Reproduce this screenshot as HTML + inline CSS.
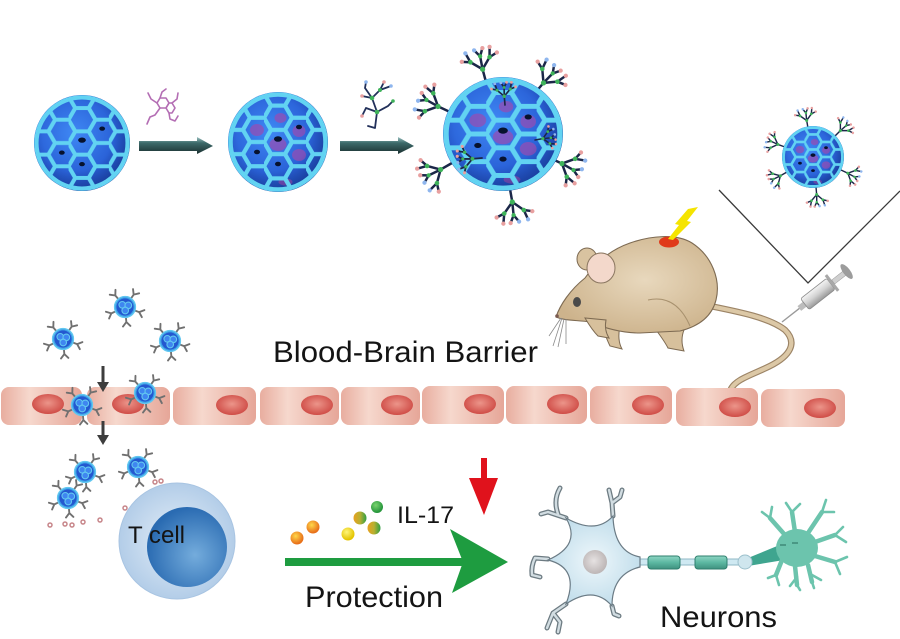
<!DOCTYPE html>
<html><head><meta charset="utf-8"><style>
html,body{margin:0;padding:0;background:#fff;}
svg{display:block;}
text{font-family:"Liberation Sans",Arial,sans-serif;fill:#141414;}
</style></head><body>
<svg width="900" height="639" viewBox="0 0 900 639" xmlns="http://www.w3.org/2000/svg">
<defs>
 <radialGradient id="gBlue" cx="0.42" cy="0.4" r="0.68"><stop offset="0" stop-color="#3f88f4"/><stop offset="0.6" stop-color="#2a62d8"/><stop offset="1" stop-color="#1a3fa6"/></radialGradient>
 <radialGradient id="gShade" cx="0.45" cy="0.42" r="0.6"><stop offset="0.6" stop-color="#0a1e5a" stop-opacity="0"/><stop offset="1" stop-color="#0a1e5a" stop-opacity="0.3"/></radialGradient>
 <pattern id="hexPat" patternUnits="userSpaceOnUse" x="-0.28" y="-0.2425" width="0.84" height="0.485">
  <path d="M0,0.2425 L0.14,0 L0.42,0 L0.56,0.2425 L0.42,0.485 L0.14,0.485 Z M0.56,0.2425 L0.84,0.2425" fill="none" stroke="#62d3f2" stroke-width="0.085"/>
 </pattern>
 <clipPath id="cu"><circle r="0.96"/></clipPath>
 <g id="cageBase"><circle r="1" fill="url(#gBlue)"/></g>
 <g id="cageLines">
  <ellipse cx="0" cy="-0.06" rx="0.08" ry="0.055" fill="#07122e"/>
  <ellipse cx="0.42" cy="-0.3" rx="0.06" ry="0.045" fill="#07122e"/>
  <ellipse cx="-0.42" cy="0.2" rx="0.06" ry="0.045" fill="#07122e"/>
  <ellipse cx="0" cy="0.44" rx="0.06" ry="0.045" fill="#07122e"/>
  <circle r="1" fill="url(#gShade)"/>
  <rect x="-1" y="-1" width="2" height="2" fill="url(#hexPat)" clip-path="url(#cu)"/>
  <circle r="0.95" fill="none" stroke="#62d3f2" stroke-width="0.09"/>
 </g>
 <g id="patches" fill="#9a4cb2" opacity="0.7">
  <ellipse cx="0" cy="0.05" rx="0.17" ry="0.13"/>
  <ellipse cx="-0.42" cy="-0.24" rx="0.14" ry="0.12"/>
  <ellipse cx="0.42" cy="-0.22" rx="0.13" ry="0.12"/>
  <ellipse cx="0.42" cy="0.26" rx="0.14" ry="0.12"/>
  <ellipse cx="0.05" cy="-0.48" rx="0.12" ry="0.1"/>
  <ellipse cx="0.15" cy="0.8" rx="0.14" ry="0.07"/>
 </g>
 <g id="dend" fill="none" stroke="#1b2748" stroke-width="0.075" stroke-linecap="round">
  <path d="M0,0 V-0.4 M0,-0.4 L-0.3,-0.7 M0,-0.4 L0.3,-0.7 M0,-0.4 L0.03,-0.8 M-0.3,-0.7 L-0.55,-0.78 M-0.3,-0.7 L-0.38,-1 M0.3,-0.7 L0.55,-0.78 M0.3,-0.7 L0.38,-1 M0.03,-0.8 L-0.1,-1.02 M0.03,-0.8 L0.16,-1.02"/>
  <g stroke="none">
   <circle cx="0" cy="-0.4" r="0.08" fill="#3fb35a"/>
   <circle cx="-0.3" cy="-0.7" r="0.07" fill="#3fb35a"/>
   <circle cx="0.3" cy="-0.7" r="0.07" fill="#3fb35a"/>
   <circle cx="0.03" cy="-0.8" r="0.065" fill="#3fb35a"/>
   <circle cx="-0.55" cy="-0.78" r="0.065" fill="#e8a0a0"/>
   <circle cx="-0.38" cy="-1" r="0.065" fill="#8fb6ee"/>
   <circle cx="0.55" cy="-0.78" r="0.065" fill="#e8a0a0"/>
   <circle cx="0.38" cy="-1" r="0.065" fill="#e8a0a0"/>
   <circle cx="-0.1" cy="-1.02" r="0.065" fill="#8fb6ee"/>
   <circle cx="0.16" cy="-1.02" r="0.065" fill="#e8a0a0"/>
  </g>
 </g>
 <g id="sdend" fill="none" stroke="#707070" stroke-width="0.2" stroke-linecap="round">
  <path d="M0,0 V-0.55 L-0.4,-1 M0,-0.55 L0.4,-1"/>
 </g>
 <g id="np">
  <use href="#sdend" transform="translate(-0.58,-0.69) rotate(-40) scale(0.85)"/>
  <use href="#sdend" transform="translate(0.52,-0.74) rotate(35) scale(0.85)"/>
  <use href="#sdend" transform="translate(0.85,0.31) rotate(110) scale(0.85)"/>
  <use href="#sdend" transform="translate(-0.82,0.38) rotate(-115) scale(0.85)"/>
  <use href="#sdend" transform="translate(0.08,0.9) rotate(175) scale(0.85)"/>
  <circle r="1" fill="#3d9fe6"/>
  <circle r="0.78" fill="#2458d0"/>
  <circle cx="-0.25" cy="-0.2" r="0.3" fill="#3f86f0" stroke="#62c8f0" stroke-width="0.1"/>
  <circle cx="0.3" cy="-0.15" r="0.3" fill="#3f86f0" stroke="#62c8f0" stroke-width="0.1"/>
  <circle cx="0.02" cy="0.32" r="0.3" fill="#3f86f0" stroke="#62c8f0" stroke-width="0.1"/>
  <circle r="0.95" fill="none" stroke="#62c8f0" stroke-width="0.12"/>
 </g>
 <linearGradient id="tarr" x1="0" y1="0" x2="0" y2="1"><stop offset="0" stop-color="#9cc2c2"/><stop offset="0.35" stop-color="#3d6a6a"/><stop offset="1" stop-color="#1a3030"/></linearGradient>
 <linearGradient id="cellG" x1="0" y1="0" x2="1" y2="0"><stop offset="0" stop-color="#e8ad9f"/><stop offset="0.35" stop-color="#f6d8cd"/><stop offset="1" stop-color="#e6a698"/></linearGradient>
 <radialGradient id="nucG" cx="0.5" cy="0.45" r="0.55"><stop offset="0" stop-color="#ec958a"/><stop offset="1" stop-color="#cf4c46"/></radialGradient>
 <radialGradient id="mouseG" cx="0.55" cy="0.45" r="0.6"><stop offset="0" stop-color="#e8d8bd"/><stop offset="1" stop-color="#cdb38c"/></radialGradient>
 <linearGradient id="syrG" x1="0" y1="0" x2="0" y2="1"><stop offset="0" stop-color="#f4f4f4"/><stop offset="0.5" stop-color="#d2d2d2"/><stop offset="1" stop-color="#9a9a9a"/></linearGradient>
 <radialGradient id="tOut" cx="0.5" cy="0.5" r="0.5"><stop offset="0" stop-color="#e4eef8"/><stop offset="1" stop-color="#b3cde8"/></radialGradient>
 <radialGradient id="tIn" cx="0.6" cy="0.6" r="0.6"><stop offset="0" stop-color="#74acdc"/><stop offset="1" stop-color="#2a6bb2"/></radialGradient>
 <radialGradient id="somaG" cx="0.5" cy="0.5" r="0.55"><stop offset="0" stop-color="#eef7fb"/><stop offset="1" stop-color="#bfdcea"/></radialGradient>
 <radialGradient id="nuc2" cx="0.45" cy="0.45" r="0.55"><stop offset="0" stop-color="#e6e2e2"/><stop offset="1" stop-color="#bdb6b6"/></radialGradient>
 <linearGradient id="myel" x1="0" y1="0" x2="0" y2="1"><stop offset="0" stop-color="#8fd6c4"/><stop offset="0.5" stop-color="#5cb8a2"/><stop offset="1" stop-color="#3f917f"/></linearGradient>
 <radialGradient id="dOr" cx="0.4" cy="0.35" r="0.6"><stop offset="0" stop-color="#ffd84a"/><stop offset="1" stop-color="#e8701a"/></radialGradient>
 <radialGradient id="dYe" cx="0.4" cy="0.35" r="0.6"><stop offset="0" stop-color="#fff67a"/><stop offset="1" stop-color="#e4c400"/></radialGradient>
 <radialGradient id="dGr" cx="0.4" cy="0.35" r="0.6"><stop offset="0" stop-color="#7ad46e"/><stop offset="1" stop-color="#27963c"/></radialGradient>
 <linearGradient id="dSp" x1="0" y1="0" x2="1" y2="0"><stop offset="0" stop-color="#e8a020"/><stop offset="0.5" stop-color="#b8b030"/><stop offset="1" stop-color="#2f9e44"/></linearGradient>
</defs>

<!-- top row particles -->
<g transform="translate(82,143) scale(48)"><use href="#cageBase"/><use href="#cageLines"/></g>
<g transform="translate(278,142) scale(50)"><use href="#cageBase"/><use href="#patches"/><use href="#cageLines"/></g>

<!-- top arrows -->
<polygon points="139,141 197,141 197,137 213,146 197,154 197,151 139,151" fill="url(#tarr)"/>
<polygon points="340,141 398,141 398,137 414,146 398,154 398,151 340,151" fill="url(#tarr)"/>

<!-- drug molecule -->
<g fill="none" stroke="#b46eb4" stroke-width="1.6" stroke-linecap="round" stroke-linejoin="round">
 <polygon points="169,103 166,98 160,98 157,103 160,108 166,108"/>
 <polygon points="175,108 172,103 169,103 166,108 169,113 172,113"/>
 <polyline points="157,103 151,99 148,93"/>
 <polyline points="160,98 162,92 166,89"/>
 <polyline points="160,108 155,115 150,117 147,124"/>
 <polyline points="169,113 170,119 175,121 178,116"/>
 <polyline points="172,103 177,99 178,93"/>
</g>
<!-- dendrimer molecule -->
<g fill="none" stroke="#22305a" stroke-width="1.8" stroke-linecap="round">
 <path d="M375,128 L377,112 L372,98 L365,88 M372,98 L380,90 L391,86 M377,112 L366,108 M377,112 L388,106 L393,101 M372,98 L362,96 M380,90 L384,82 M365,88 L366,82 M366,108 L362,116 M375,128 L368,126"/>
 <g stroke="none"><circle cx="377" cy="112" r="2.3" fill="#3fb35a"/><circle cx="372" cy="98" r="2.3" fill="#3fb35a"/><circle cx="380" cy="90" r="2" fill="#3fb35a"/><circle cx="391" cy="86" r="1.8" fill="#8fb6ee"/><circle cx="384" cy="82" r="1.8" fill="#e8a0a0"/><circle cx="366" cy="82" r="1.8" fill="#8fb6ee"/><circle cx="362" cy="116" r="1.8" fill="#e8a0a0"/><circle cx="393" cy="101" r="1.8" fill="#3fb35a"/><circle cx="362" cy="96" r="1.8" fill="#e8a0a0"/></g>
</g>

<!-- big functionalized particle -->
<g>
 <use href="#dend" transform="translate(486,82) rotate(-15) scale(33)"/>
 <use href="#dend" transform="translate(535,93) rotate(40) scale(33)"/>
 <use href="#dend" transform="translate(450,112) rotate(-65) scale(33)"/>
 <use href="#dend" transform="translate(452,163) rotate(-120) scale(33)"/>
 <use href="#dend" transform="translate(510,189) rotate(170) scale(33)"/>
 <use href="#dend" transform="translate(550,158) rotate(115) scale(33)"/>
 <g transform="translate(503,134) scale(60,57)"><use href="#cageBase"/><use href="#patches"/><use href="#cageLines"/></g>
 <use href="#dend" transform="translate(482,158) rotate(-95) scale(24)"/>
 <use href="#dend" transform="translate(505,105) rotate(-5) scale(22)"/>
 <use href="#dend" transform="translate(535,140) rotate(80) scale(20)"/>
</g>

<!-- small functionalized particle top right -->
<g>
 <use href="#dend" transform="translate(808,128) rotate(-10) scale(19)"/>
 <use href="#dend" transform="translate(835,136) rotate(45) scale(19)"/>
 <use href="#dend" transform="translate(785,147) rotate(-70) scale(19)"/>
 <use href="#dend" transform="translate(787,172) rotate(-120) scale(19)"/>
 <use href="#dend" transform="translate(816,187) rotate(175) scale(19)"/>
 <use href="#dend" transform="translate(841,170) rotate(115) scale(19)"/>
 <g transform="translate(813,157) scale(31)"><use href="#cageBase"/><use href="#patches"/><use href="#cageLines"/></g>
</g>

<!-- V lines -->
<path d="M719,190 L808,283 L900,191" fill="none" stroke="#3a3a3a" stroke-width="1.3"/>

<!-- mouse tail -->
<path d="M710,306 C740,312 770,318 785,330 C798,343 790,356 770,366 C752,375 736,379 731,389" fill="none" stroke="#9c8466" stroke-width="6.5" stroke-linecap="round"/>
<path d="M710,306 C740,312 770,318 785,330 C798,343 790,356 770,366 C752,375 736,379 731,389" fill="none" stroke="#dcc8a6" stroke-width="4.2" stroke-linecap="round"/>
<!-- mouse legs -->
<path d="M650,322 Q664,340 668,348 L684,351 Q680,340 684,330 Z" fill="#d7c09c" stroke="#7d6a52" stroke-width="1"/>
<path d="M600,320 Q606,338 610,346 L622,349 Q617,340 620,326 Z" fill="#d7c09c" stroke="#7d6a52" stroke-width="1"/>
<!-- mouse body -->
<path d="M556,317 C560,305 570,290 585,278 C596,262 610,250 630,243 C650,236 676,233 692,243 C712,256 721,280 716,300 C712,316 700,326 680,331 L640,333 C620,333 602,327 590,322 C578,320 565,321 556,317 Z" fill="url(#mouseG)" stroke="#7d6a52" stroke-width="1.1"/>
<path d="M648,300 Q676,294 690,326" fill="none" stroke="#a8916e" stroke-width="1"/>
<path d="M585,318 Q592,330 598,336 L609,338 Q604,330 606,320 Z" fill="#d7c09c" stroke="#7d6a52" stroke-width="1"/>
<!-- ears -->
<ellipse cx="587" cy="259" rx="10" ry="11" fill="#d9c3a0" stroke="#7d6a52" stroke-width="1"/>
<ellipse cx="601" cy="268" rx="14" ry="15" fill="#f3d8cb" stroke="#8a7660" stroke-width="1"/>
<!-- eye, nose -->
<ellipse cx="577" cy="302" rx="4" ry="5" fill="#4a4a4a"/>
<circle cx="557" cy="316" r="1.8" fill="#7a5a50"/>
<g stroke="#8a8a8a" stroke-width="0.8" fill="none"><path d="M562,318 L553,346 M564,319 L558,347 M566,319 L566,344 M561,318 L549,336"/></g>
<!-- red spot + lightning -->
<ellipse cx="669" cy="242" rx="10" ry="5.5" fill="#e03a1a"/>
<polygon points="668,239 679,225 675,224 688,209 698,207 687,221 691,222 673,240" fill="#f5e400"/>
<!-- syringe -->
<g transform="translate(782,322) rotate(-38)">
 <line x1="0" y1="0" x2="24" y2="0" stroke="#9a9a9a" stroke-width="1.4"/>
 <rect x="22" y="-3" width="7" height="6" fill="#bdbdbd"/>
 <rect x="29" y="-7" width="33" height="14" rx="2" fill="url(#syrG)" stroke="#8a8a8a" stroke-width="0.8"/>
 <rect x="62" y="-10" width="3" height="20" fill="#a8a8a8"/>
 <rect x="65" y="-2.5" width="14" height="5" fill="#cfcfcf" stroke="#999" stroke-width="0.5"/>
 <ellipse cx="82" cy="0" rx="3.5" ry="9" fill="#9c9c9c"/>
</g>

<!-- BBB text -->
<text x="273" y="362" font-size="30" textLength="265" lengthAdjust="spacingAndGlyphs">Blood-Brain Barrier</text>

<!-- floating particles -->
<use href="#np" transform="translate(125,307) scale(11)"/>
<use href="#np" transform="translate(63,339) scale(11)"/>
<use href="#np" transform="translate(170,341) scale(11)"/>

<!-- BBB cells -->
<g fill="url(#cellG)">
 <rect x="1" y="387" width="81" height="38" rx="8"/>
 <rect x="87" y="387" width="83" height="38" rx="8"/>
 <rect x="173" y="387" width="83" height="38" rx="8"/>
 <rect x="260" y="387" width="79" height="38" rx="8"/>
 <rect x="341" y="387" width="79" height="38" rx="8"/>
 <rect x="422" y="386" width="82" height="38" rx="8"/>
 <rect x="506" y="386" width="81" height="38" rx="8"/>
 <rect x="590" y="386" width="82" height="38" rx="8"/>
 <rect x="676" y="388" width="82" height="38" rx="8"/>
 <rect x="761" y="389" width="84" height="38" rx="8"/>
</g>
<g fill="url(#nucG)">
 <ellipse cx="48" cy="404" rx="16" ry="10"/>
 <ellipse cx="128" cy="404" rx="16" ry="10"/>
 <ellipse cx="232" cy="405" rx="16" ry="10"/>
 <ellipse cx="317" cy="405" rx="16" ry="10"/>
 <ellipse cx="397" cy="405" rx="16" ry="10"/>
 <ellipse cx="480" cy="404" rx="16" ry="10"/>
 <ellipse cx="563" cy="404" rx="16" ry="10"/>
 <ellipse cx="648" cy="405" rx="16" ry="10"/>
 <ellipse cx="735" cy="407" rx="16" ry="10"/>
 <ellipse cx="820" cy="408" rx="16" ry="10"/>
</g>
<use href="#np" transform="translate(82,405) scale(11)"/>
<use href="#np" transform="translate(145,393) scale(11)"/>

<!-- gray arrows -->
<g fill="#3d3d3d">
 <rect x="101.5" y="366" width="3" height="18"/>
 <polygon points="97,382 109,382 103,392"/>
 <rect x="101.5" y="421" width="3" height="16"/>
 <polygon points="97,435 109,435 103,445"/>
</g>

<!-- particles near T cell -->
<use href="#np" transform="translate(85,472) scale(11)"/>
<use href="#np" transform="translate(68,498) scale(11)"/>
<use href="#np" transform="translate(138,467) scale(11)"/>
<g fill="#fff" stroke="#c7868a" stroke-width="1.5">
 <circle cx="50" cy="525" r="2"/><circle cx="65" cy="524" r="2"/><circle cx="72" cy="525" r="2"/><circle cx="83" cy="522" r="2"/><circle cx="100" cy="520" r="2"/><circle cx="125" cy="508" r="2"/><circle cx="142" cy="506" r="2"/><circle cx="155" cy="482" r="2"/><circle cx="161" cy="481" r="2"/>
</g>

<!-- T cell -->
<circle cx="177" cy="541" r="58" fill="url(#tOut)" stroke="#a8c4e2" stroke-width="1"/>
<circle cx="187" cy="547" r="40" fill="url(#tIn)"/>
<text x="128" y="543" font-size="24" textLength="57" lengthAdjust="spacingAndGlyphs">T cell</text>

<!-- IL-17 dots -->
<circle cx="297" cy="538" r="6.5" fill="url(#dOr)"/>
<circle cx="313" cy="527" r="6.5" fill="url(#dOr)"/>
<circle cx="348" cy="534" r="6.5" fill="url(#dYe)"/>
<circle cx="360" cy="518" r="6.5" fill="url(#dSp)"/>
<circle cx="377" cy="507" r="6" fill="url(#dGr)"/>
<circle cx="374" cy="528" r="6.5" fill="url(#dSp)"/>
<text x="397" y="523" font-size="24" textLength="57" lengthAdjust="spacingAndGlyphs">IL-17</text>

<!-- green arrow -->
<rect x="285" y="558" width="178" height="8" fill="#1e9c40"/>
<polygon points="450,529 508,562 452,593 463,562" fill="#1e9c40"/>
<text x="305" y="607" font-size="30" textLength="138" lengthAdjust="spacingAndGlyphs">Protection</text>

<!-- red arrow -->
<rect x="481" y="458" width="6" height="22" fill="#e0121c"/>
<polygon points="469,478 498,478 484,515" fill="#e0121c"/>

<!-- neuron left -->
<g fill="none" stroke-linecap="round" stroke-linejoin="round">
 <g stroke="#6d7b82" stroke-width="5">
  <path d="M566,518 L548,512 L541,514 M558,514 Q553,500 560,488"/>
  <path d="M613,516 L612,503 L609,490 M612,503 L620,497 L622,490"/>
  <path d="M548,559 L535,558 Q531,566 532,575 L540,577"/>
  <path d="M566,604 L553,613 L547,628 M553,613 L560,622 L558,632"/>
  <path d="M612,606 L614,614 L619,616"/>
 </g>
 <g stroke="#d2dde2" stroke-width="2.4">
  <path d="M566,518 L548,512 L541,514 M558,514 Q553,500 560,488"/>
  <path d="M613,516 L612,503 L609,490 M612,503 L620,497 L622,490"/>
  <path d="M548,559 L535,558 Q531,566 532,575 L540,577"/>
  <path d="M566,604 L553,613 L547,628 M553,613 L560,622 L558,632"/>
  <path d="M612,606 L614,614 L619,616"/>
 </g>
</g>
<line x1="636" y1="562" x2="745" y2="562" stroke="#8fb8c6" stroke-width="7"/>
<line x1="636" y1="562" x2="745" y2="562" stroke="#cfe9f2" stroke-width="5"/>
<path d="M640,557 Q614,552 613,516 Q596,535 566,518 Q582,545 548,560 Q580,568 566,604 Q594,585 612,606 Q612,574 640,567 Z" fill="url(#somaG)" stroke="#6b7b85" stroke-width="1.2"/>
<circle cx="595" cy="562" r="12" fill="url(#nuc2)"/>
<rect x="648" y="556" width="32" height="13" rx="3" fill="url(#myel)" stroke="#2f7f6e" stroke-width="1"/>
<rect x="695" y="556" width="32" height="13" rx="3" fill="url(#myel)" stroke="#2f7f6e" stroke-width="1"/>
<polygon points="748,558 782,544 784,560 748,566" fill="#3fa58f"/>
<circle cx="745" cy="562" r="7" fill="#cfe6ee" stroke="#9cc0cc" stroke-width="1"/>

<!-- neuron right (green) -->
<g stroke="#6cc4ad" fill="none" stroke-linecap="round" stroke-linejoin="round">
 <g stroke-width="4.5">
  <path d="M785,535 L770,518 M795,532 L792,512 M808,533 L822,512 M815,542 L835,535 M815,556 L835,562 M808,565 L812,582 M795,566 L797,585 M782,560 L776,575"/>
 </g>
 <g stroke-width="2.6">
  <path d="M770,518 L762,512 M770,518 L772,507 M792,512 L786,503 M792,512 L800,504 M822,512 L826,500 M822,512 L834,512 M835,535 L843,527 M835,535 L846,542 M835,562 L847,557 M835,562 L840,574 M812,575 L821,580 M812,582 L814,588 M797,577 L790,586 M797,585 L800,590 M776,575 L779,585 M776,575 L768,578"/>
 </g>
</g>
<ellipse cx="797" cy="548" rx="21" ry="19" fill="#6cc4ad"/>
<path d="M780,545 L786,545 M792,543 L798,543" stroke="#3e8a78" stroke-width="1.5"/>
<text x="660" y="627" font-size="30" textLength="117" lengthAdjust="spacingAndGlyphs">Neurons</text>
</svg>
</body></html>
